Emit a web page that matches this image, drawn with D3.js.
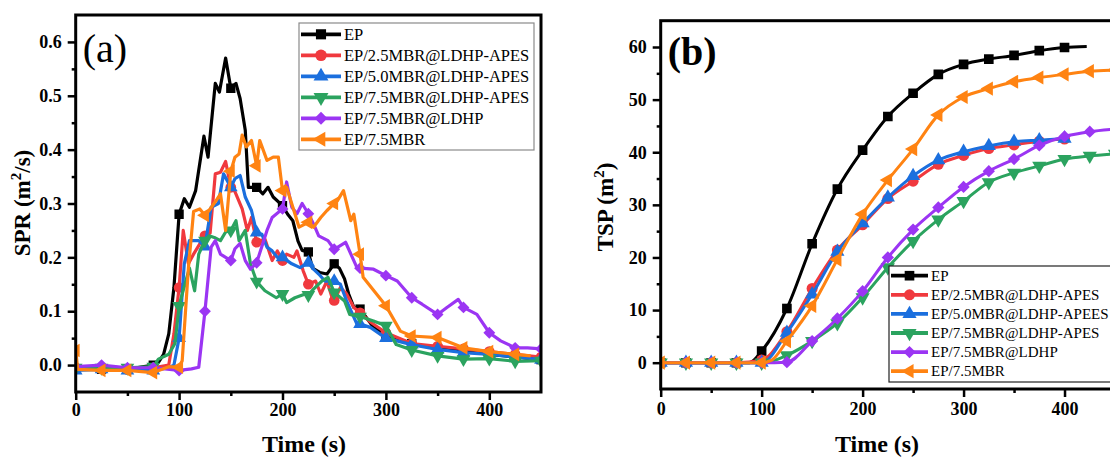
<!DOCTYPE html>
<html>
<head>
<meta charset="utf-8">
<script src="https://cdn.jsdelivr.net/npm/d3@7"></script>
<style>
  html, body { margin: 0; padding: 0; background: #ffffff; }
  svg { display: block; font-family: "Liberation Serif", "Times New Roman", serif; }
</style>
</head>
<body>
<svg id="chart" width="1110" height="457"></svg>
<script>
// ---------- data: smoke production rate, panel (a) ----------
const seriesNames = ["EP", "EP/2.5MBR@LDHP-APES", "EP/5.0MBR@LDHP-APES",
                     "EP/7.5MBR@LDHP-APES", "EP/7.5MBR@LDHP", "EP/7.5MBR"];
const seriesNamesB = ["EP", "EP/2.5MBR@LDHP-APES", "EP/5.0MBR@LDHP-APEES",
                      "EP/7.5MBR@LDHP-APES", "EP/7.5MBR@LDHP", "EP/7.5MBR"];

const sprTimeEP = [0,25,50,75,80,85,90,95,100,105,110,116,124,128,135,139,145,150,155,159,164,167,175,181,186,191,200,205,210,215,219,225,229,236,243,250,255,260,264,269,275,288,300,325,350,375,400,425,450];
const sprEP     = [-0.008,-0.008,-0.008,0.0,0.005,0.02,0.058,0.144,0.28,0.309,0.293,0.324,0.425,0.386,0.523,0.507,0.57,0.514,0.523,0.495,0.436,0.33,0.33,0.318,0.33,0.312,0.296,0.28,0.268,0.23,0.213,0.21,0.18,0.172,0.169,0.188,0.18,0.16,0.132,0.107,0.104,0.07,0.055,0.04,0.03,0.027,0.02,0.015,0.01];

const sprTime25 = [0,25,50,75,90,95,100,104,109,114,120,125,130,135,140,145,150,154,161,166,170,175,183,190,195,200,204,211,214,220,225,232,237,243,248,250,256,262,269,275,285,300,325,350,375,400,425,450];
const spr25     = [-0.005,-0.005,-0.008,-0.005,0.0,0.058,0.144,0.25,0.188,0.206,0.225,0.24,0.245,0.355,0.358,0.378,0.33,0.322,0.29,0.25,0.274,0.228,0.234,0.194,0.212,0.194,0.206,0.2,0.212,0.175,0.15,0.156,0.132,0.156,0.125,0.12,0.144,0.132,0.107,0.097,0.08,0.06,0.04,0.035,0.03,0.025,0.02,0.015];

const sprTime50 = [0,25,50,75,90,95,100,105,110,119,125,131,138,143,150,154,159,164,170,175,180,185,190,195,200,209,217,225,230,235,241,250,256,262,272,275,285,300,325,350,375,400,425,450];
const spr50     = [-0.01,-0.008,-0.01,-0.01,-0.005,0.0,0.05,0.188,0.231,0.231,0.22,0.293,0.3,0.355,0.33,0.346,0.352,0.312,0.287,0.246,0.243,0.219,0.212,0.2,0.2,0.188,0.181,0.19,0.178,0.169,0.156,0.156,0.15,0.119,0.076,0.076,0.07,0.05,0.038,0.029,0.023,0.02,0.015,0.01];

const sprTime75 = [0,25,50,75,80,90,96,100,103,110,115,119,125,129,134,140,145,150,155,158,164,169,175,183,194,200,204,212,222,225,230,238,244,250,260,265,275,288,300,310,325,350,375,400,425,450];
const spr75     = [-0.005,-0.005,-0.005,-0.003,0.011,0.02,0.04,0.11,0.132,0.18,0.138,0.206,0.231,0.24,0.237,0.231,0.247,0.25,0.268,0.231,0.25,0.188,0.155,0.138,0.125,0.132,0.116,0.125,0.132,0.13,0.141,0.156,0.163,0.135,0.119,0.094,0.09,0.082,0.073,0.038,0.028,0.017,0.011,0.012,0.007,0.008];

const sprTimeLDHP = [0,25,50,75,100,112,119,125,131,135,140,150,154,159,164,169,175,185,190,200,204,209,214,219,225,230,235,244,250,261,272,275,288,300,311,325,335,350,359,370,375,388,400,411,425,437,450];
const sprLDHP     = [-0.003,0.0,-0.005,-0.005,-0.01,-0.007,-0.004,0.1,0.219,0.231,0.206,0.194,0.216,0.226,0.194,0.178,0.19,0.25,0.274,0.29,0.34,0.293,0.281,0.3,0.281,0.262,0.24,0.231,0.215,0.228,0.181,0.18,0.178,0.166,0.156,0.125,0.113,0.094,0.107,0.122,0.107,0.094,0.06,0.045,0.032,0.032,0.03];

const sprTimeMBR = [0,2,25,50,75,90,100,103,109,114,120,125,129,136,140,145,150,154,158,161,165,170,175,178,185,191,196,200,204,211,216,225,230,237,243,250,253,259,266,269,275,278,300,314,325,350,375,400,425,440];
const sprMBR     = [0.027,-0.008,-0.01,-0.01,-0.014,-0.003,-0.004,0.008,0.18,0.285,0.29,0.278,0.287,0.306,0.318,0.25,0.36,0.386,0.392,0.427,0.405,0.417,0.37,0.417,0.38,0.386,0.386,0.324,0.33,0.287,0.256,0.265,0.256,0.274,0.287,0.3,0.305,0.324,0.268,0.28,0.206,0.163,0.11,0.063,0.054,0.051,0.032,0.025,0.02,0.017];

// ---------- data: total smoke production, panel (b) ----------
const tspTimeEP = [0,25,50,75,88,100,125,150,175,200,225,250,275,300,325,350,375,400,422];
const tspEP     = [0,0,0,0,0,2.2,10.3,22.6,33,40.4,46.8,51.2,54.8,56.7,57.7,58.4,59.3,59.9,60.1];

const tspTime25 = [0,25,50,75,100,125,150,175,200,225,250,275,300,325,350,375,400];
const tsp25     = [0,0,0,0,0.5,5.9,14.1,21.4,26.2,31.2,34.5,37.7,39.4,40.7,41.4,42.1,42.5];

const tspTime50 = [0,25,50,75,100,125,150,175,200,225,250,275,300,325,350,375,400];
const tsp50     = [0,0,0,0,0,5.7,13,21.1,26.5,31.4,35.5,38.5,40.1,41.2,42,42.3,42.6];

const tspTime75 = [0,25,50,75,100,110,125,150,175,200,225,250,275,300,325,350,375,400,425,450];
const tsp75     = [0,0,0,0,0,0.3,1.4,4.1,7.5,12.4,18.1,23.1,27.2,30.7,34.3,36.1,37.4,38.7,39.3,39.7];

const tspTimeLDHP = [0,25,50,75,100,125,150,175,200,225,250,275,300,325,350,375,400,425,450];
const tspLDHP     = [0,0,0,0,0,0.1,4.1,8.4,13.6,20,25.3,29.5,33.4,36.4,38.7,41.3,43,43.9,44.4];

const tspTimeMBR = [0,25,50,75,100,110,125,150,175,200,225,250,275,300,325,350,375,400,425,450];
const tspMBR     = [0,0,0,0,0,0.5,4.1,10.8,19.6,28.2,34.7,40.6,47.1,50.5,52.1,53.4,54.2,54.8,55.4,55.6];

// ---------- tick values ----------
const timeTicks = [0, 100, 200, 300, 400];
const timeMinor = [50, 150, 250, 350];
const sprTicks = [0, 0.1, 0.2, 0.3, 0.4, 0.5, 0.6];
const sprMinor = [0.05, 0.15, 0.25, 0.35, 0.45, 0.55];
const tspTicks = [0, 10, 20, 30, 40, 50, 60];
const tspMinor = [5, 15, 25, 35, 45, 55];

// ---------- styling ----------
const colors = ["#000000", "#f0393e", "#1b6fde", "#2ba35f", "#9b35f3", "#ff8312"];
const shapes = ["square", "circle", "triUp", "triDown", "diamond", "triLeft"];

const svg = d3.select("#chart");

function markerPath(shape, scale) {
  const s = scale || 1;
  switch (shape) {
    case "square":  return { d: d3.symbol(d3.symbolSquare, 64 * s)(), rot: 0 };
    case "circle":  return { d: d3.symbol(d3.symbolCircle, 66 * s)(), rot: 0 };
    case "triUp":   return { d: d3.symbol(d3.symbolTriangle, 60 * s)(), rot: 0 };
    case "triDown": return { d: d3.symbol(d3.symbolTriangle, 60 * s)(), rot: 180 };
    case "diamond": return { d: d3.symbol(d3.symbolSquare, 52 * s)(), rot: 45 };
    case "triLeft": return { d: d3.symbol(d3.symbolTriangle, 60 * s)(), rot: -90 };
  }
}

function drawPanel(cfg) {
  const g = svg.append("g");
  const x = d3.scaleLinear().domain([0, 450]).range([cfg.left, cfg.right]);
  const y = d3.scaleLinear().domain(cfg.yDomain).range([cfg.bottom, cfg.top]);

  const clipId = "clip-" + cfg.id;
  svg.append("defs").append("clipPath").attr("id", clipId)
    .append("rect").attr("x", cfg.left).attr("y", cfg.top)
    .attr("width", cfg.right - cfg.left).attr("height", cfg.bottom - cfg.top);

  // series
  const plot = g.append("g").attr("clip-path", `url(#${clipId})`);
  const line = d3.line().x(d => x(d[0])).y(d => y(d[1])).curve(cfg.curve);
  cfg.series.forEach((s, i) => {
    const pts = s.t.map((t, k) => [t, s.v[k]]);
    plot.append("path").datum(pts)
      .attr("d", line).attr("fill", "none")
      .attr("stroke", colors[i]).attr("stroke-width", cfg.lineWidth)
      .attr("stroke-linejoin", "round");
    const m = markerPath(shapes[i], cfg.markerScale);
    plot.selectAll(null).data(pts.filter(p => p[0] % 25 === 0)).join("path")
      .attr("d", m.d)
      .attr("transform", p => `translate(${x(p[0])},${y(p[1])}) rotate(${m.rot})`)
      .attr("fill", colors[i]);
  });

  // axes
  const styleAxis = (sel) => {
    sel.select(".domain").remove();
    sel.selectAll(".tick line").attr("stroke", "#000").attr("stroke-width", 2.5);
    sel.selectAll(".tick text").attr("fill", "#000")
      .style("font-family", '"Liberation Serif","Times New Roman",serif')
      .style("font-weight", "bold").style("font-size", "18px");
  };
  g.append("g").attr("transform", `translate(0,${cfg.bottom})`)
    .call(d3.axisBottom(x).tickValues(timeTicks).tickFormat(d3.format("d"))
      .tickSize(8).tickPadding(cfg.xPad))
    .call(styleAxis);
  g.append("g").attr("transform", `translate(0,${cfg.bottom})`)
    .call(d3.axisBottom(x).tickValues(timeMinor).tickFormat("").tickSize(4))
    .call(styleAxis);
  g.append("g").attr("transform", `translate(${cfg.left},0)`)
    .call(d3.axisLeft(y).tickValues(cfg.yTicks).tickFormat(cfg.yFormat)
      .tickSize(8).tickPadding(6))
    .call(styleAxis);
  g.append("g").attr("transform", `translate(${cfg.left},0)`)
    .call(d3.axisLeft(y).tickValues(cfg.yMinor).tickFormat("").tickSize(4))
    .call(styleAxis);

  // frame
  g.append("rect").attr("x", cfg.left).attr("y", cfg.top)
    .attr("width", cfg.right - cfg.left).attr("height", cfg.bottom - cfg.top)
    .attr("fill", "none").attr("stroke", "#000").attr("stroke-width", 3);

  // panel letter
  g.append("text").attr("x", cfg.left + 7).attr("y", cfg.letterY)
    .attr("font-size", 40).attr("font-weight", cfg.letterWeight)
    .text(cfg.letter);

  // axis titles
  g.append("text").attr("x", cfg.xTitleX).attr("y", 452)
    .attr("text-anchor", "middle").attr("font-size", 24).attr("font-weight", "bold")
    .text("Time (s)");
  const yt = g.append("text")
    .attr("transform", `translate(${cfg.yTitleX},${cfg.yTitleY}) rotate(-90)`)
    .attr("text-anchor", "middle").attr("font-size", 23).attr("font-weight", "bold");
  yt.append("tspan").text(cfg.yTitle[0]);
  yt.append("tspan").attr("font-size", 15).attr("dy", -9).text("2");
  yt.append("tspan").attr("dy", 9).text(cfg.yTitle[1]);

  // legend
  const L = cfg.legend;
  g.append("rect").attr("x", L.x).attr("y", L.y).attr("width", L.w).attr("height", L.h)
    .attr("fill", "#fff").attr("stroke", L.stroke).attr("stroke-width", 1.2);
  cfg.names.forEach((name, i) => {
    const ry = L.y + L.first + i * L.step;
    g.append("line").attr("x1", L.x + 2).attr("x2", L.x + 2 + L.lineLen)
      .attr("y1", ry).attr("y2", ry).attr("stroke", colors[i]).attr("stroke-width", 3.8);
    const m = markerPath(shapes[i], L.markerScale);
    g.append("path").attr("d", m.d)
      .attr("transform", `translate(${L.x + 2 + L.lineLen / 2},${ry}) rotate(${m.rot})`)
      .attr("fill", colors[i]);
    g.append("text").attr("x", L.x + L.lineLen + 5).attr("y", ry + L.fontSize * 0.33)
      .attr("font-size", L.fontSize).attr("fill", "#000").text(name);
  });
}

drawPanel({
  id: "a", left: 75.7, right: 541, top: 15, bottom: 392,
  yDomain: [-0.05, 0.65], yTicks: sprTicks, yMinor: sprMinor, yFormat: d3.format(".1f"),
  curve: d3.curveLinear, markerScale: 1.35, lineWidth: 3.2, xPad: 3,
  letter: "(a)", letterY: 62, letterWeight: "normal",
  xTitleX: 304, yTitleX: 30, yTitleY: 203, yTitle: ["SPR (m", "/s)"],
  names: seriesNames,
  series: [
    { t: sprTimeEP, v: sprEP }, { t: sprTime25, v: spr25 }, { t: sprTime50, v: spr50 },
    { t: sprTime75, v: spr75 }, { t: sprTimeLDHP, v: sprLDHP }, { t: sprTimeMBR, v: sprMBR }
  ],
  legend: { x: 299, y: 23, w: 235, h: 127, first: 11.3, step: 21, lineLen: 40,
            fontSize: 16.5, markerScale: 1.6, stroke: "#8a8a8a" }
});

drawPanel({
  id: "b", left: 660.7, right: 1115, top: 20.7, bottom: 389,
  yDomain: [-5, 65], yTicks: tspTicks, yMinor: tspMinor, yFormat: d3.format("d"),
  curve: d3.curveMonotoneX, markerScale: 1.45, lineWidth: 3, xPad: 5,
  letter: "(b)", letterY: 65, letterWeight: "bold",
  xTitleX: 877, yTitleX: 613, yTitleY: 207, yTitle: ["TSP (m", ")"],
  names: seriesNamesB,
  series: [
    { t: tspTimeEP, v: tspEP }, { t: tspTime25, v: tsp25 }, { t: tspTime50, v: tsp50 },
    { t: tspTime75, v: tsp75 }, { t: tspTimeLDHP, v: tspLDHP }, { t: tspTimeMBR, v: tspMBR }
  ],
  legend: { x: 889, y: 266, w: 300, h: 116, first: 9.7, step: 19.1, lineLen: 37,
            fontSize: 15, markerScale: 1.45, stroke: "#222" }
});
</script>
</body>
</html>
